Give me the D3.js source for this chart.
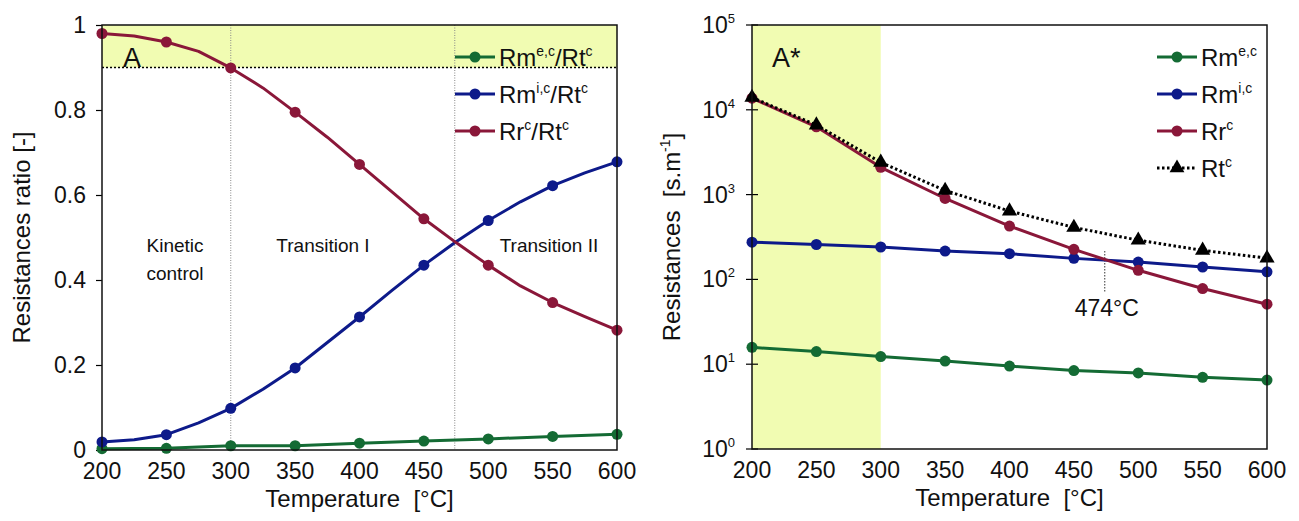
<!DOCTYPE html>
<html>
<head>
<meta charset="utf-8">
<script src="https://cdn.jsdelivr.net/npm/d3@7"></script>
<style>
  body { margin: 0; background: #fff; }
  svg { display: block; font-family: "Liberation Sans", Arial, sans-serif; }
</style>
</head>
<body>
<svg id="chart" width="1299" height="521"></svg>
<script>
// Temperatures (°C)
const temps = [200, 250, 300, 350, 400, 450, 500, 550, 600];
const tempsFine = [200, 225, 250, 275, 300, 325, 350, 375, 400, 425, 450, 475, 500, 525, 550, 575, 600];

// Panel A - resistance ratios
const ratioRme = [0.003, 0.004, 0.010, 0.010, 0.016, 0.021, 0.026, 0.032, 0.037];
const ratioRmi = [0.019, 0.024, 0.036, 0.064, 0.098, 0.143, 0.193, 0.253, 0.313, 0.375, 0.435, 0.490, 0.540, 0.584, 0.622, 0.652, 0.678];
const ratioRr  = [0.980, 0.974, 0.960, 0.938, 0.899, 0.852, 0.795, 0.736, 0.672, 0.608, 0.544, 0.488, 0.435, 0.386, 0.347, 0.314, 0.282];

// Panel A* - resistances (s.m-1)
const resRme = [15.8, 14.1, 12.3, 10.9, 9.5, 8.4, 7.9, 7.0, 6.5];
const resRmi = [275, 258, 241, 216, 201, 177, 160, 140, 123];
const resRr  = [13700, 6300, 2100, 900, 425, 226, 128, 78, 51];
const resRt  = [14000, 6600, 2400, 1120, 640, 410, 290, 220, 178];

const xTicks = [200, 250, 300, 350, 400, 450, 500, 550, 600];
const ratioTicks = [0, 0.2, 0.4, 0.6, 0.8, 1];
const ratioTickLabels = ['0', '0.2', '0.4', '0.6', '0.8', '1'];
const logTicks = [1, 10, 100, 1000, 10000, 100000];

const colors = { green: '#146b34', blue: '#0d1a8a', red: '#8a1739', black: '#000' };
const bandColor = '#f1fcb2';

const svg = d3.select('#chart');

// helper to write text with superscript parts
function richText(g, parts, size) {
    parts.forEach(p => {
        const ts = g.append('tspan').text(p.t);
        if (p.sup) {
            ts.attr('font-size', size * 0.58).attr('dy', -size * 0.42);
        } else if (p.after) {
            ts.attr('dy', size * 0.42);
        }
    });
}

function drawAxesCommon(g, x, w, h) {
    // x tick labels
    g.append('g').selectAll('text')
        .data(xTicks)
        .enter().append('text')
        .attr('x', d => x(d))
        .attr('y', h + 29)
        .attr('text-anchor', 'middle')
        .attr('font-size', 23)
        .attr('fill', '#111')
        .text(d => d);

    // x title
    g.append('text')
        .attr('x', w / 2)
        .attr('y', h + 57)
        .attr('text-anchor', 'middle')
        .attr('font-size', 24)
        .attr('fill', '#111')
        .attr('xml:space', 'preserve')
        .text('Temperature  [°C]');
}

function drawLegend(g, items, lx, ly, step) {
    items.forEach((it, i) => {
        const row = g.append('g').attr('transform', `translate(${lx},${ly + i * step})`);
        row.append('line')
            .attr('x1', 0).attr('x2', 40)
            .attr('stroke', it.color)
            .attr('stroke-width', 3)
            .attr('stroke-dasharray', it.dash || null);
        if (it.marker === 'tri') {
            row.append('path')
                .attr('d', d3.symbol(d3.symbolTriangle, 95)())
                .attr('transform', 'translate(20,0)')
                .attr('fill', it.color);
        } else {
            row.append('circle').attr('cx', 20).attr('r', 5.5).attr('fill', it.color);
        }
        const t = row.append('text')
            .attr('x', 44)
            .attr('y', 9)
            .attr('font-size', 24)
            .attr('fill', '#111');
        richText(t, it.label, 24);
    });
}

// ---------------- Panel A ----------------
(function() {
    const m = { left: 102, top: 25 };
    const w = 515, h = 425;
    const g = svg.append('g').attr('transform', `translate(${m.left},${m.top})`);

    const x = d3.scaleLinear().domain([200, 600]).range([0, w]);
    const y = d3.scaleLinear().domain([0, 1]).range([h, 0]);

    // shaded kinetic band (ratio > 0.9)
    g.append('rect')
        .attr('x', 0).attr('y', y(1))
        .attr('width', w).attr('height', y(0.9) - y(1))
        .attr('fill', bandColor);

    g.append('line')
        .attr('x1', 0).attr('x2', w)
        .attr('y1', y(0.9)).attr('y2', y(0.9))
        .attr('stroke', '#000').attr('stroke-width', 1.5)
        .attr('stroke-dasharray', '2,2');

    // regime boundaries
    [300, 474].forEach(t => {
        g.append('line')
            .attr('x1', x(t)).attr('x2', x(t))
            .attr('y1', 0).attr('y2', h)
            .attr('stroke', '#888').attr('stroke-width', 1)
            .attr('stroke-dasharray', '1,1.5');
    });

    // y axis ticks and labels
    g.append('g').call(d3.axisLeft(y).tickValues(ratioTicks).tickSize(6)
        .tickFormat((d, i) => ratioTickLabels[i]))
        .call(a => a.select('.domain').remove())
        .call(a => a.selectAll('line').attr('stroke', '#000').attr('stroke-width', 1.2))
        .call(a => a.selectAll('text').attr('font-size', 23).attr('fill', '#111')
            .attr('font-family', '"Liberation Sans", Arial, sans-serif').attr('x', -16));

    // region labels
    const regionLabels = [
        { t: 'Kinetic', x: 175, y: 252 },
        { t: 'control', x: 175, y: 280 },
        { t: 'Transition I', x: 323, y: 252 },
        { t: 'Transition II', x: 549, y: 252 }
    ];
    g.selectAll('.region')
        .data(regionLabels)
        .enter().append('text')
        .attr('x', d => d.x - m.left)
        .attr('y', d => d.y - m.top)
        .attr('text-anchor', 'middle')
        .attr('font-size', 19)
        .attr('fill', '#111')
        .text(d => d.t);

    g.append('text')
        .attr('x', 21).attr('y', 42)
        .attr('font-size', 27).attr('fill', '#111')
        .text('A');

    const line = d3.line().x(d => x(d[0])).y(d => y(d[1]));

    const series = [
        { vals: ratioRme, t: temps, color: colors.green },
        { vals: ratioRmi, t: tempsFine, color: colors.blue },
        { vals: ratioRr, t: tempsFine, color: colors.red }
    ];
    series.forEach(s => {
        const pts = s.t.map((t, i) => [t, s.vals[i]]);
        g.append('path')
            .datum(pts)
            .attr('d', line)
            .attr('fill', 'none')
            .attr('stroke', s.color)
            .attr('stroke-width', 3)
            .attr('stroke-linejoin', 'round');
        g.append('g').selectAll('circle')
            .data(pts.filter(p => p[0] % 50 === 0))
            .enter().append('circle')
            .attr('cx', d => x(d[0]))
            .attr('cy', d => y(d[1]))
            .attr('r', 5.5)
            .attr('fill', s.color);
    });

    // frame
    g.append('rect')
        .attr('width', w).attr('height', h)
        .attr('fill', 'none').attr('stroke', '#111').attr('stroke-width', 1.5);

    drawAxesCommon(g, x, w, h);

    g.append('text')
        .attr('transform', `translate(-72,${h / 2}) rotate(-90)`)
        .attr('text-anchor', 'middle')
        .attr('font-size', 24)
        .attr('fill', '#111')
        .text('Resistances ratio [-]');

    drawLegend(g, [
        { color: colors.green, label: [{ t: 'Rm' }, { t: 'e,c', sup: true }, { t: '/Rt', after: true }, { t: 'c', sup: true }] },
        { color: colors.blue, label: [{ t: 'Rm' }, { t: 'i,c', sup: true }, { t: '/Rt', after: true }, { t: 'c', sup: true }] },
        { color: colors.red, label: [{ t: 'Rr' }, { t: 'c', sup: true }, { t: '/Rt', after: true }, { t: 'c', sup: true }] }
    ], 353, 32, 37);
})();

// ---------------- Panel A* ----------------
(function() {
    const m = { left: 752, top: 25 };
    const w = 515, h = 424;
    const g = svg.append('g').attr('transform', `translate(${m.left},${m.top})`);

    const x = d3.scaleLinear().domain([200, 600]).range([0, w]);
    const y = d3.scaleLog().domain([1, 100000]).range([h, 0]);

    g.append('rect')
        .attr('x', 0).attr('y', 0)
        .attr('width', x(300)).attr('height', h)
        .attr('fill', bandColor);

    // y ticks (crossing) and power-of-ten labels
    const tk = g.append('g');
    tk.selectAll('line')
        .data(logTicks)
        .enter().append('line')
        .attr('x1', -6).attr('x2', 6)
        .attr('y1', d => y(d)).attr('y2', d => y(d))
        .attr('stroke', '#000').attr('stroke-width', 1.2);
    logTicks.forEach(d => {
        const t = tk.append('text')
            .attr('x', -17)
            .attr('y', y(d) + 8)
            .attr('text-anchor', 'end')
            .attr('font-size', 23)
            .attr('fill', '#111');
        t.append('tspan').text('10');
        t.append('tspan').text(Math.round(Math.log10(d)))
            .attr('font-size', 13).attr('dy', -10);
    });

    g.append('text')
        .attr('x', 20).attr('y', 42)
        .attr('font-size', 27).attr('fill', '#111')
        .text('A*');

    // 474 °C crossing marker
    g.append('line')
        .attr('x1', x(474)).attr('x2', x(474))
        .attr('y1', 226).attr('y2', 267)
        .attr('stroke', '#333').attr('stroke-width', 1)
        .attr('stroke-dasharray', '1.5,1.5');
    g.append('text')
        .attr('x', x(474) + 2).attr('y', 291)
        .attr('text-anchor', 'middle')
        .attr('font-size', 23)
        .attr('fill', '#111')
        .text('474°C');

    const line = d3.line().x(d => x(d[0])).y(d => y(d[1]));

    const series = [
        { vals: resRme, color: colors.green },
        { vals: resRmi, color: colors.blue },
        { vals: resRr, color: colors.red },
        { vals: resRt, color: colors.black, dash: '2.5,2.5', marker: 'tri' }
    ];
    series.forEach(s => {
        const pts = temps.map((t, i) => [t, s.vals[i]]);
        g.append('path')
            .datum(pts)
            .attr('d', line)
            .attr('fill', 'none')
            .attr('stroke', s.color)
            .attr('stroke-width', 3)
            .attr('stroke-dasharray', s.dash || null)
            .attr('stroke-linejoin', 'round');
        if (s.marker === 'tri') {
            g.append('g').selectAll('path')
                .data(pts)
                .enter().append('path')
                .attr('d', d3.symbol(d3.symbolTriangle, 100)())
                .attr('transform', d => `translate(${x(d[0])},${y(d[1])})`)
                .attr('fill', s.color);
        } else {
            g.append('g').selectAll('circle')
                .data(pts)
                .enter().append('circle')
                .attr('cx', d => x(d[0]))
                .attr('cy', d => y(d[1]))
                .attr('r', 5.5)
                .attr('fill', s.color);
        }
    });

    g.append('rect')
        .attr('width', w).attr('height', h)
        .attr('fill', 'none').attr('stroke', '#111').attr('stroke-width', 1.5);

    drawAxesCommon(g, x, w, h);

    const yt = g.append('text')
        .attr('transform', `translate(-72,${h / 2}) rotate(-90)`)
        .attr('text-anchor', 'middle')
        .attr('font-size', 24)
        .attr('fill', '#111')
        .attr('xml:space', 'preserve');
    yt.append('tspan').text('Resistances  [s.m');
    yt.append('tspan').text('-1').attr('font-size', 14).attr('dy', -10);
    yt.append('tspan').text(']').attr('dy', 10);

    drawLegend(g, [
        { color: colors.green, label: [{ t: 'Rm' }, { t: 'e,c', sup: true }] },
        { color: colors.blue, label: [{ t: 'Rm' }, { t: 'i,c', sup: true }] },
        { color: colors.red, label: [{ t: 'Rr' }, { t: 'c', sup: true }] },
        { color: colors.black, dash: '2.5,2.5', marker: 'tri', label: [{ t: 'Rt' }, { t: 'c', sup: true }] }
    ], 405, 32, 37);
})();
</script>
</body>
</html>
